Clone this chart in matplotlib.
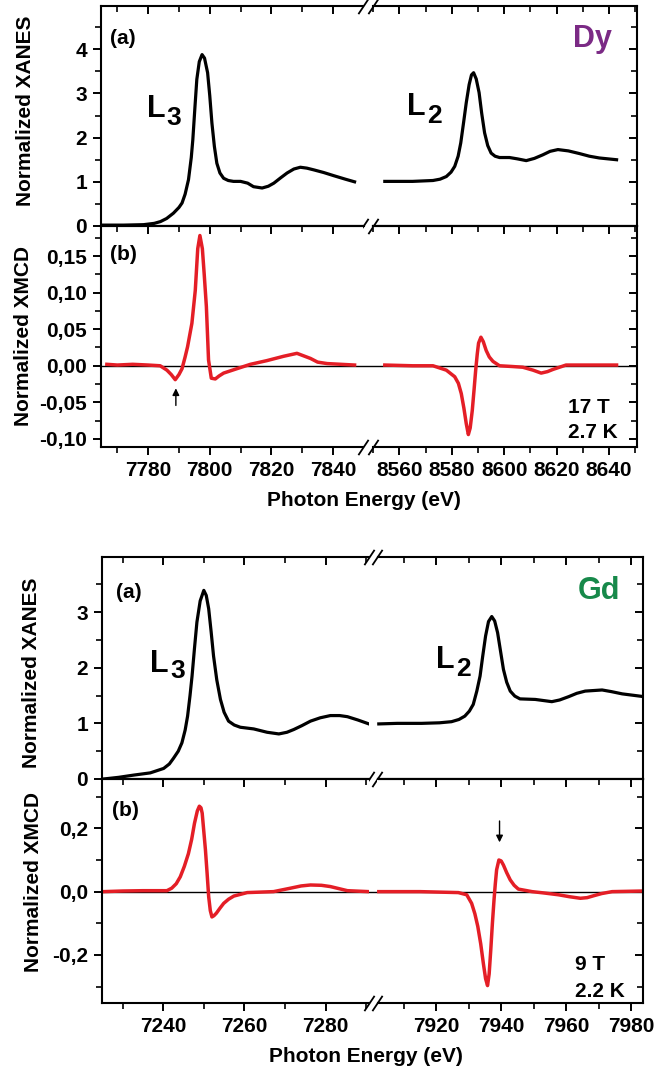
import numpy as np
import matplotlib
matplotlib.use("Agg")
import matplotlib.pyplot as plt
from matplotlib.ticker import MultipleLocator, FixedLocator, FuncFormatter

plt.rcParams['font.family'] = ['Liberation Sans', 'DejaVu Sans']
plt.rcParams['font.weight'] = 'bold'
plt.rcParams['axes.linewidth'] = 1.5

# ---------------- Dy data ----------------
dy_l3_e = [7765.5, 7772, 7778.5, 7782, 7784, 7786, 7788.2, 7790, 7791, 7792, 7793.1, 7794, 7794.5,
           7795.2, 7795.8, 7796.6, 7797.5, 7798.3, 7799.3, 7800, 7800.7, 7801.5, 7802.3, 7803.3,
           7804.5, 7806, 7807.7, 7810, 7812.3, 7814.2, 7817, 7819, 7820.8, 7823, 7825.1, 7827.3,
           7829.4, 7831.5, 7833.8, 7837, 7840.2, 7844, 7847]
dy_l3_xanes = [0.02, 0.02, 0.03, 0.06, 0.10, 0.17, 0.29, 0.42, 0.52, 0.72, 1.05, 1.55, 1.95,
               2.70, 3.32, 3.72, 3.88, 3.80, 3.47, 2.95, 2.33, 1.80, 1.42, 1.20,
               1.08, 1.03, 1.01, 1.01, 0.97, 0.89, 0.86, 0.90, 0.97, 1.09, 1.20, 1.29,
               1.33, 1.31, 1.27, 1.21, 1.14, 1.06, 1.00]
dy_l2_e = [8554.4, 8565, 8572.8, 8575.5, 8577.9, 8579.7, 8581.1, 8582.4, 8583.4, 8584.5, 8585.5,
           8586.6, 8587.5, 8588.3, 8589.3, 8590.4, 8591.4, 8592.5, 8593.7, 8595.0, 8596.5, 8598.2,
           8602.0, 8605, 8608.4, 8611.5, 8614.7, 8617.5, 8620.5, 8624.5, 8628.7, 8632.5, 8636.3, 8642.9]
dy_l2_xanes = [1.01, 1.01, 1.03, 1.06, 1.12, 1.22, 1.35, 1.58, 1.88, 2.35, 2.79,
               3.20, 3.42, 3.47, 3.33, 3.02, 2.55, 2.11, 1.82, 1.65, 1.58, 1.55,
               1.55, 1.52, 1.48, 1.53, 1.61, 1.69, 1.73, 1.70, 1.64, 1.58, 1.54, 1.50]

dy_l3_me = [7766.6, 7770, 7775, 7780, 7783.9, 7786.1, 7787.5, 7788.8, 7790, 7791, 7792, 7792.8,
            7794.2, 7795.3, 7796.1, 7796.8, 7797.6, 7798.2, 7798.9, 7799.6, 7800.5, 7801.8, 7803,
            7804.5, 7808.8, 7813.2, 7818.5, 7824, 7828.3, 7832.7, 7835, 7838.1, 7847]
dy_l3_xmcd = [0.002, 0.001, 0.002, 0.001, 0.0, -0.006, -0.012, -0.019, -0.012, -0.004, 0.012, 0.026,
              0.058, 0.103, 0.160, 0.178, 0.160, 0.125, 0.081, 0.008, -0.017, -0.018, -0.014,
              -0.010, -0.004, 0.002, 0.007, 0.013, 0.017, 0.010, 0.005, 0.003, 0.001]
dy_l2_me = [8554.4, 8565, 8572.8, 8577.9, 8581.1, 8582.5, 8583.6, 8584.6, 8585.5, 8586.3, 8587.0,
            8587.8, 8588.5, 8589.1, 8589.7, 8590.2, 8591.1, 8592.0, 8593.1, 8594.3, 8595.7, 8598.2,
            8603, 8607.1, 8611, 8614.1, 8616.5, 8618.6, 8623.6, 8630, 8642.9]
dy_l2_xmcd = [0.001, 0.0, 0.0, -0.006, -0.015, -0.024, -0.038, -0.058, -0.079, -0.094, -0.085,
              -0.061, -0.032, -0.006, 0.016, 0.031, 0.039, 0.033, 0.021, 0.012, 0.006, 0.0,
              -0.001, -0.002, -0.006, -0.010, -0.008, -0.005, 0.001, 0.001, 0.001]

# ---------------- Gd data ----------------
gd_l3_e = [7225.3, 7229, 7232.7, 7236.8, 7240.1, 7241.5, 7242.5, 7243.7, 7244.6, 7245.4, 7246.0,
           7246.6, 7247.1, 7247.7, 7248.3, 7249.1, 7250.0, 7250.6, 7251.2, 7251.8, 7252.4, 7253.2,
           7254.1, 7255.0, 7256.1, 7257.5, 7259.0, 7262.3, 7265.6, 7268.5, 7270.5, 7272.2, 7274.2,
           7276.3, 7278.7, 7281.2, 7283.5, 7285.4, 7288, 7290.7]
gd_l3_xanes = [0.0, 0.03, 0.07, 0.11, 0.19, 0.27, 0.37, 0.50, 0.65, 0.88, 1.13,
               1.50, 1.85, 2.35, 2.82, 3.20, 3.39, 3.30, 3.06, 2.65, 2.21, 1.78,
               1.43, 1.20, 1.04, 0.97, 0.93, 0.90, 0.84, 0.81, 0.84, 0.89, 0.96,
               1.04, 1.10, 1.14, 1.14, 1.12, 1.06, 0.99]
gd_l2_e = [7902.3, 7908, 7915.5, 7921, 7924.7, 7927, 7928.8, 7930.2, 7931.4, 7932.5, 7933.5,
           7934.3, 7935.2, 7936.1, 7937.1, 7938, 7938.9, 7939.8, 7940.7, 7941.7, 7942.8, 7944.2,
           7945.8, 7950.5, 7955.6, 7958, 7960.8, 7963.3, 7965.9, 7971.1, 7974, 7977.3, 7984.0]
gd_l2_xanes = [0.99, 1.00, 1.00, 1.01, 1.03, 1.07, 1.13, 1.22, 1.34, 1.58, 1.85,
               2.20, 2.57, 2.83, 2.92, 2.84, 2.63, 2.30, 1.97, 1.74, 1.58, 1.49,
               1.44, 1.43, 1.39, 1.42, 1.48, 1.54, 1.58, 1.60, 1.57, 1.53, 1.48]

gd_l3_me = [7225.3, 7230, 7235, 7240.9, 7242.1, 7243.2, 7244.2, 7245.2, 7246.2, 7247.0, 7247.7,
            7248.4, 7248.9, 7249.3, 7249.6, 7250.0, 7250.4, 7250.8, 7251.2, 7251.6, 7252.0, 7252.5,
            7253.1, 7254.0, 7254.9, 7256.1, 7257.4, 7260.7, 7267.2, 7271.4, 7274, 7276.3, 7279,
            7281.2, 7285.4, 7290.7]
gd_l3_xmcd = [0.0, 0.002, 0.003, 0.003, 0.011, 0.025, 0.047, 0.080, 0.12, 0.165, 0.216,
              0.255, 0.270, 0.265, 0.248, 0.19, 0.132, 0.06, -0.016, -0.060, -0.080, -0.076,
              -0.068, -0.052, -0.037, -0.024, -0.014, -0.003, 0.0, 0.011, 0.018, 0.021, 0.020,
              0.016, 0.003, 0.0]
gd_l2_me = [7902.3, 7915, 7926.8, 7929.4, 7930.9, 7931.9, 7932.8, 7933.7, 7934.5, 7935.2, 7935.8,
            7936.3, 7936.8, 7937.3, 7937.8, 7938.2, 7938.6, 7939.3, 7940.0, 7940.7, 7941.7, 7942.8,
            7944, 7945.3, 7949.5, 7953, 7957.7, 7961, 7964.4, 7966.5, 7968.5, 7971, 7974.2, 7984]
gd_l2_xmcd = [0.0, 0.0, -0.003, -0.01, -0.037, -0.07, -0.11, -0.165, -0.226, -0.275, -0.297,
              -0.260, -0.184, -0.10, -0.026, 0.025, 0.069, 0.100, 0.097, 0.084, 0.060, 0.037,
              0.020, 0.008, 0.0, -0.004, -0.010, -0.016, -0.021, -0.019, -0.013, -0.006, 0.0, 0.002]

# ticks
dy_xanes_ticks = [0, 1, 2, 3, 4]
dy_xmcd_ticks = [-0.10, -0.05, 0.0, 0.05, 0.10, 0.15]
gd_xanes_ticks = [0, 1, 2, 3]
gd_xmcd_ticks = [-0.2, 0.0, 0.2]

W, H = 667, 1074
RED = '#e41e26'
FS = 15

fig = plt.figure(figsize=(W / 100, H / 100), dpi=100)


def rect(x0, x1, y0, y1):
    return [x0 / W, 1 - y1 / H, (x1 - x0) / W, (y1 - y0) / H]


def ftext(x, y, s, **kw):
    fig.text(x / W, 1 - y / H, s, **kw)


def style(ax, side, row, xmaj, xmin_, ymaj, ymin_):
    ax.xaxis.set_major_locator(MultipleLocator(xmaj))
    ax.xaxis.set_minor_locator(MultipleLocator(xmin_))
    ax.yaxis.set_minor_locator(MultipleLocator(ymin_))
    ax.tick_params(which='major', length=6, width=1.4, labelsize=FS, pad=4)
    ax.tick_params(which='minor', length=4, width=1.2)
    if side == 'l':
        ax.spines['right'].set_visible(False)
        ax.tick_params(axis='y', which='both', left=True, right=False, direction='out')
    else:
        ax.spines['left'].set_visible(False)
        ax.tick_params(axis='y', which='both', left=False, right=True, direction='in',
                       labelleft=False, labelright=False)
    if row == 'a':
        ax.tick_params(axis='x', which='both', direction='in', top=True, bottom=False,
                       labelbottom=False)
    else:
        ax.tick_params(axis='x', which='both', direction='out', top=False, bottom=True)
        sec = ax.secondary_xaxis('top')
        sec.xaxis.set_major_locator(MultipleLocator(xmaj))
        sec.xaxis.set_minor_locator(MultipleLocator(xmin_))
        sec.tick_params(which='both', direction='in', labeltop=False)
        sec.tick_params(which='major', length=6, width=1.4)
        sec.tick_params(which='minor', length=4, width=1.2)


def breaks(ax, x, ys):
    for y in ys:
        ax.plot([x], [y], transform=ax.transAxes, marker=[(-1, -1.5), (1, 1.5)],
                markersize=11, linestyle='none', color='k', mec='k', mew=1.3, clip_on=False)


def block(top, mid, bot, xl, xb, xr, xlim_l, xlim_r, e3, a3, e2, a2, m3e, m3, m2e, m2,
          ylim_a, ylim_b, yt_a, yt_b, fmt_b):
    gap = 9
    al = fig.add_axes(rect(xl, xb - gap / 2, top, mid))
    ar = fig.add_axes(rect(xb + gap / 2, xr, top, mid))
    bl = fig.add_axes(rect(xl, xb - gap / 2, mid, bot))
    br = fig.add_axes(rect(xb + gap / 2, xr, mid, bot))
    for ax in (al, bl):
        ax.set_xlim(*xlim_l)
    for ax in (ar, br):
        ax.set_xlim(*xlim_r)
    for ax in (al, ar):
        ax.set_ylim(*ylim_a)
        ax.yaxis.set_major_locator(FixedLocator(yt_a))
    for ax in (bl, br):
        ax.set_ylim(*ylim_b)
        ax.yaxis.set_major_locator(FixedLocator(yt_b))
        ax.yaxis.set_major_formatter(FuncFormatter(fmt_b))
    style(al, 'l', 'a', 20, 10, 1, 0.5)
    style(ar, 'r', 'a', 20, 10, 1, 0.5)
    ystep = (yt_b[1] - yt_b[0]) / 2
    style(bl, 'l', 'b', 20, 10, 1, ystep)
    style(br, 'r', 'b', 20, 10, 1, ystep)
    al.plot(e3, a3, color='k', lw=2.3, solid_joinstyle='round')
    ar.plot(e2, a2, color='k', lw=2.3, solid_joinstyle='round')
    wl = (xb - gap / 2) - xl
    bl.axhline(0, xmin=0, xmax=1 + (gap + 2) / wl, color='k', lw=1.0, clip_on=False, zorder=1)
    br.axhline(0, color='k', lw=1.0, zorder=1)
    bl.plot(m3e, m3, color=RED, lw=2.5, solid_joinstyle='round', zorder=2)
    br.plot(m2e, m2, color=RED, lw=2.5, solid_joinstyle='round', zorder=2)
    breaks(al, 1, [1, 0])
    breaks(ar, 0, [1, 0])
    breaks(bl, 1, [0])
    breaks(br, 0, [0])
    return al, ar, bl, br


def fmt2(v, pos):
    return f"{round(v, 2) + 0:.2f}".replace('.', ',')


def fmt1(v, pos):
    return f"{round(v, 1) + 0:.1f}".replace('.', ',')


# ---------------- Dy ----------------
dy = block(6, 226, 447, 101, 368, 637, (7764.7, 7849.9), (8549.7, 8650.7),
           dy_l3_e, dy_l3_xanes, dy_l2_e, dy_l2_xanes,
           dy_l3_me, dy_l3_xmcd, dy_l2_me, dy_l2_xmcd,
           (0, 4.98), (-0.111, 0.191), dy_xanes_ticks, dy_xmcd_ticks, fmt2)
dy[2].annotate('', xy=(7789, -0.027), xytext=(7789, -0.058),
               arrowprops=dict(arrowstyle='-|>', color='k', lw=1.0, mutation_scale=10))

ftext(110, 38, '(a)', fontsize=FS, va='center')
ftext(147, 117, 'L', fontsize=22, va='baseline')
ftext(166, 125, '3', fontsize=19, va='baseline')
ftext(407, 115, 'L', fontsize=22, va='baseline')
ftext(427, 123, '2', fontsize=19, va='baseline')
ftext(573, 47, 'Dy', fontsize=22, va='baseline', color='#7b2a85')
ftext(110, 254, '(b)', fontsize=FS, va='center')
ftext(568, 413, '17 T', fontsize=FS, va='baseline')
ftext(568, 438, '2.7 K', fontsize=FS, va='baseline')
ftext(26, 111, 'Normalized XANES', fontsize=FS, rotation=90, ha='center', va='center')
ftext(24, 336, 'Normalized XMCD', fontsize=FS, rotation=90, ha='center', va='center')
ftext(364, 500, 'Photon Energy (eV)', fontsize=FS, ha='center', va='center')

# ---------------- Gd ----------------
gd = block(557, 779, 1003, 102, 373, 643, (7224.9, 7290.6), (7901.9, 7983.7),
           gd_l3_e, gd_l3_xanes, gd_l2_e, gd_l2_xanes,
           gd_l3_me, gd_l3_xmcd, gd_l2_me, gd_l2_xmcd,
           (0, 3.99), (-0.352, 0.356), gd_xanes_ticks, gd_xmcd_ticks, fmt1)
gd[3].annotate('', xy=(7939.5, 0.147), xytext=(7939.5, 0.232),
               arrowprops=dict(arrowstyle='-|>', color='k', lw=1.0, mutation_scale=10))

ftext(116, 592, '(a)', fontsize=FS, va='center')
ftext(150, 672, 'L', fontsize=22, va='baseline')
ftext(170, 678, '3', fontsize=19, va='baseline')
ftext(436, 668, 'L', fontsize=22, va='baseline')
ftext(456, 676, '2', fontsize=19, va='baseline')
ftext(578, 599, 'Gd', fontsize=22, va='baseline', color='#17894a')
ftext(112, 811, '(b)', fontsize=FS, va='center')
ftext(575, 970, '9 T', fontsize=FS, va='baseline')
ftext(575, 997, '2.2 K', fontsize=FS, va='baseline')
ftext(32, 673, 'Normalized XANES', fontsize=FS, rotation=90, ha='center', va='center')
ftext(34, 882, 'Normalized XMCD', fontsize=FS, rotation=90, ha='center', va='center')
ftext(366, 1057, 'Photon Energy (eV)', fontsize=FS, ha='center', va='center')

fig.savefig('out.png', dpi=100)
